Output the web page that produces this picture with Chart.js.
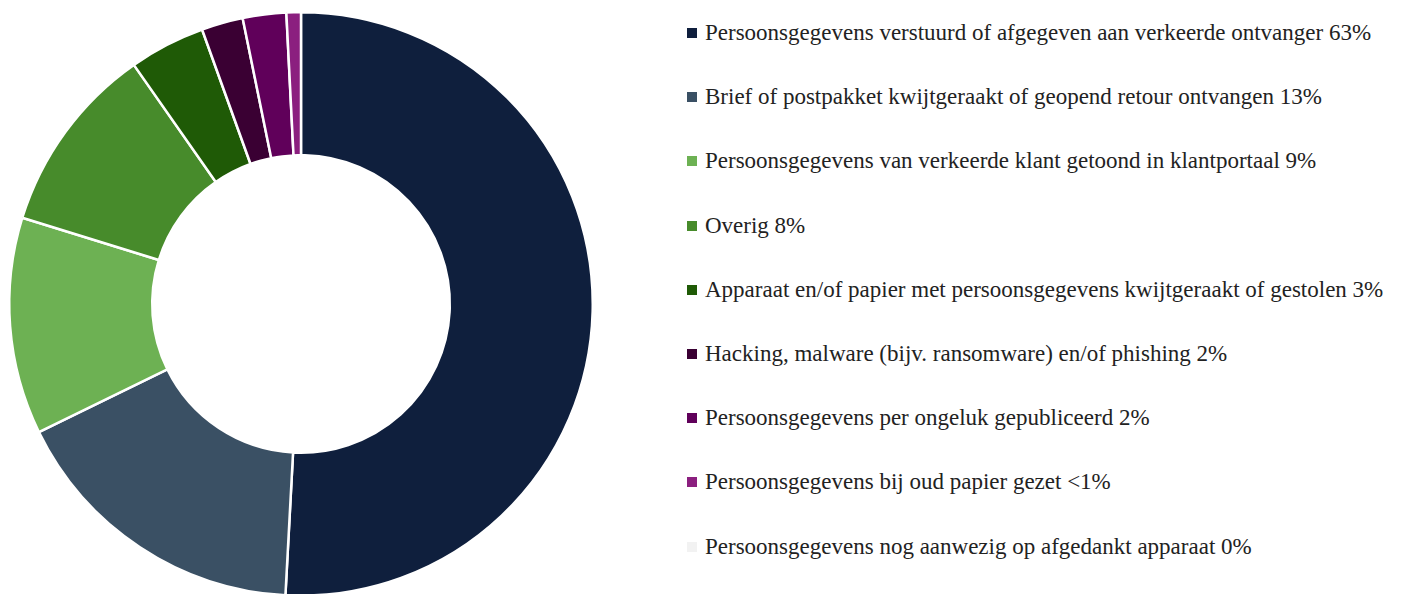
<!DOCTYPE html>
<html lang="nl">
<head>
<meta charset="utf-8">
<script src="https://cdn.jsdelivr.net/npm/chart.js@4"></script>
<style>
  html, body { margin: 0; padding: 0; background: #fff; }
  #wrap { position: relative; width: 1405px; height: 594px; overflow: hidden; }
  #chartBox { position: absolute; left: 0; top: 0; width: 602px; height: 600px; }
  #legenda { position: absolute; left: 687px; top: 0; margin: 0; padding: 0; list-style: none;
    font-family: "Liberation Serif", "DejaVu Serif", serif; font-size: 23px; color: #222; }
  #legenda li { position: absolute; left: 0; white-space: nowrap; height: 24px; line-height: 24px; }
  #legenda .box { display: inline-block; width: 10px; height: 10px; margin-right: 8px; vertical-align: 2px; }
</style>
</head>
<body>
<div id="wrap">
  <div id="chartBox"><canvas id="chartIncidenten"></canvas></div>
  <ul id="legenda"></ul>
</div>
<script>
// categorieën zoals in de legenda
const categorieen = [
    "Persoonsgegevens verstuurd of afgegeven aan verkeerde ontvanger",
    "Brief of postpakket kwijtgeraakt of geopend retour ontvangen",
    "Persoonsgegevens van verkeerde klant getoond in klantportaal",
    "Overig",
    "Apparaat en/of papier met persoonsgegevens kwijtgeraakt of gestolen",
    "Hacking, malware (bijv. ransomware) en/of phishing",
    "Persoonsgegevens per ongeluk gepubliceerd",
    "Persoonsgegevens bij oud papier gezet",
    "Persoonsgegevens nog aanwezig op afgedankt apparaat"
];
// percentages zoals ze in de legenda staan
const percentages = ["63%", "13%", "9%", "8%", "3%", "2%", "2%", "<1%", "0%"];
const waarden = [50.8, 16.9, 12.0, 10.5, 4.2, 2.3, 2.4, 0.8, 0];
const kleuren = ["#0f1f3d", "#3a5064", "#6db153", "#478b2b", "#1f5a06", "#3a0033", "#60005a", "#8b1f7f", "#f2f2f2"];

let chartIncidenten = null;

document.addEventListener("DOMContentLoaded", () => {
    renderizarRing();
    renderizarLegenda();
});

function renderizarRing() {
    const ctx = document.getElementById("chartIncidenten").getContext("2d");
    chartIncidenten = new Chart(ctx, {
        type: "doughnut",
        data: {
            labels: categorieen.map((c, i) => `${c} ${percentages[i]}`),
            datasets: [{
                data: waarden,
                backgroundColor: kleuren,
                borderColor: "#ffffff",
                borderWidth: 2.5
            }]
        },
        options: {
            responsive: true,
            maintainAspectRatio: false,
            animation: false,
            cutout: "51%",
            layout: { padding: { top: 9, bottom: 1, left: 8, right: 8 } },
            plugins: {
                legend: { display: false },
                tooltip: { enabled: false }
            }
        }
    });
}

// eigen legenda als html-tekst
function renderizarLegenda() {
    const ul = document.getElementById("legenda");
    const eersteY = 33;
    const stap = 64.2;
    categorieen.forEach((cat, i) => {
        const li = document.createElement("li");
        li.style.top = (eersteY + i * stap - 12) + "px";
        const box = document.createElement("span");
        box.className = "box";
        box.style.background = kleuren[i];
        li.appendChild(box);
        li.appendChild(document.createTextNode(`${cat} ${percentages[i]}`));
        ul.appendChild(li);
    });
}
</script>
</body>
</html>
